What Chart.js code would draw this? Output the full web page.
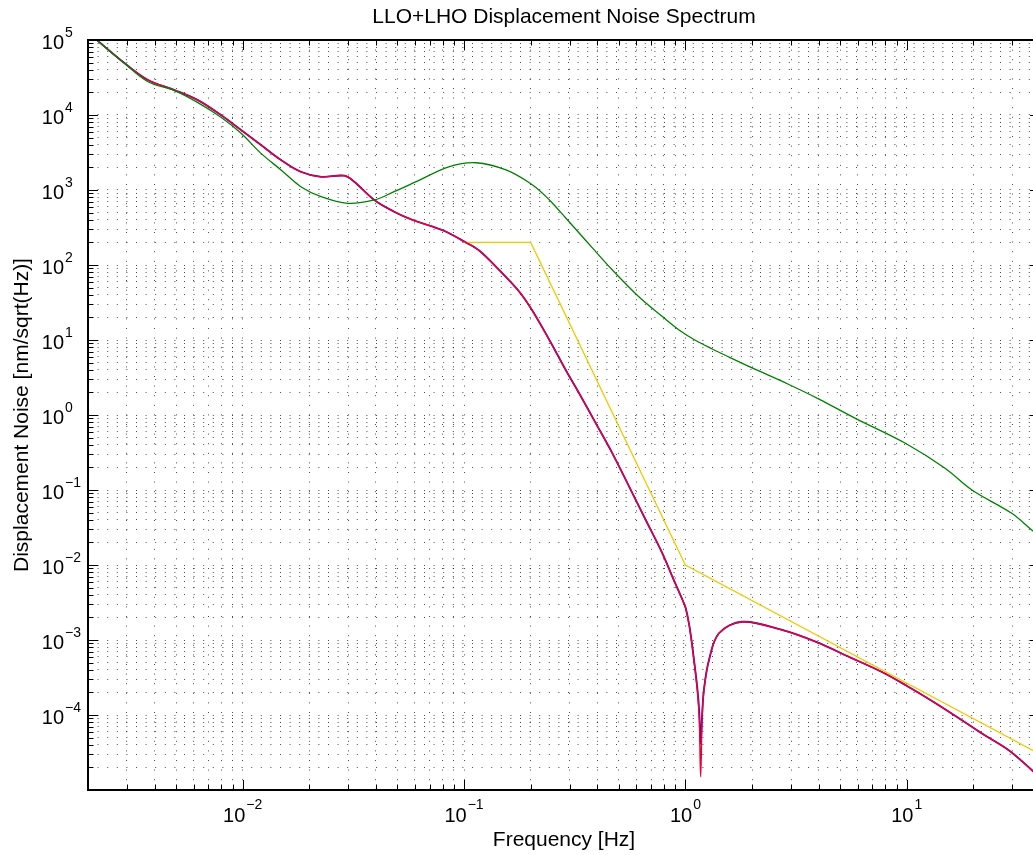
<!DOCTYPE html>
<html>
<head>
<meta charset="utf-8">
<title>LLO+LHO Displacement Noise Spectrum</title>
<script src="https://cdn.jsdelivr.net/npm/chart.js@4.4.0/dist/chart.umd.min.js"></script>
<style>
    html, body { margin: 0; padding: 0; background: #fff; overflow: hidden; }
    #wrap { width: 1033px; height: 855px; overflow: hidden; }
</style>
</head>
<body>
<div id="wrap"><canvas id="noiseChart" width="1041" height="855"></canvas></div>
<script>
// values
const redFreq = [0.002, 0.00293, 0.00373, 0.00492, 0.00627, 0.00798, 0.00983, 0.0121, 0.0149, 0.0183,
    0.0226, 0.0288, 0.0319, 0.0393, 0.0483, 0.0586, 0.0722, 0.083, 0.1003, 0.117,
    0.144, 0.178, 0.204, 0.243, 0.288, 0.331, 0.394, 0.468, 0.557, 0.662,
    0.787, 0.873, 0.975, 1.003, 1.04, 1.074, 1.132, 1.155, 1.172, 1.19, 1.213,
    1.278, 1.418, 1.81, 2.736, 3.87, 5.47, 7.73, 9.86, 13.0, 17.7,
    21.8, 28.8, 36.7, 40];
const redVals = [1.26e5, 4.89e4, 2.93e4, 2.15e4, 1.58e4, 1.0e4, 6310, 3980, 2510, 1750,
    1500, 1550, 1290, 736, 514, 398, 324, 278, 205, 156,
    85.8, 43.7, 24.4, 10, 3.98, 1.95, 0.774, 0.308, 0.111, 0.0398,
    0.0143, 0.00699, 0.00331, 0.00267, 1.58e-3, 8.15e-4, 2.15e-4, 9e-5, 1.5e-5, 9e-5, 2.15e-4,
    5.4e-4, 1.23e-3, 1.75e-3, 1.36e-3, 9.5e-4, 5.98e-4, 3.74e-4, 2.51e-4, 1.54e-4, 8.58e-5,
    5.7e-5, 3.42e-5, 1.85e-5, 1.45e-5];
const blueVals = [1.26e5, 4.89e4, 2.93e4, 2.15e4, 1.58e4, 1.0e4, 6310, 3980, 2510, 1750,
    1500, 1550, 1290, 736, 514, 398, 324, 278, 205, 156,
    85.8, 43.7, 24.4, 10, 3.98, 1.95, 0.774, 0.308, 0.111, 0.0398,
    0.0143, 0.00699, 0.00331, 0.00267, 1.6e-3, 8.3e-4, 2.3e-4, 1.1e-4, 4.2e-5, 1.0e-4, 2.2e-4,
    5.4e-4, 1.23e-3, 1.75e-3, 1.36e-3, 9.5e-4, 5.98e-4, 3.74e-4, 2.51e-4, 1.54e-4, 8.58e-5,
    5.7e-5, 3.42e-5, 1.85e-5, 1.45e-5];

const greenFreq = [0.002, 0.00293, 0.00373, 0.00492, 0.00627, 0.00798, 0.00983, 0.0121, 0.0149, 0.0183,
    0.0226, 0.0298, 0.0393, 0.0483, 0.0608, 0.0859, 0.1133, 0.1547, 0.204, 0.243,
    0.288, 0.331, 0.38, 0.468, 0.618, 0.787, 0.936, 1.113, 1.323,
    1.573, 2.004, 2.934, 4.01, 5.86, 9.86, 14.9, 19.7, 29.8, 36.7, 40];
const greenVals = [1.26e5, 4.85e4, 2.78e4, 2.11e4, 1.46e4, 9310, 5700, 3080, 1850, 1107,
    815, 665, 736, 949, 1290, 2050, 2310, 1850, 1166, 736,
    423, 267, 169, 85.8, 37.4, 20.5, 13.6, 9.85, 7.59,
    5.93, 4.24, 2.55, 1.63, 0.903, 0.42, 0.195, 0.1, 0.0489, 0.0293, 0.024];

const yellowFreq = [0.1, 0.2, 1, 40];
const yellowVals = [200, 200, 0.01, 3.0e-5];

const xTickExponents = [-2, -1, 0, 1];
const yTickExponents = [5, 4, 3, 2, 1, 0, -1, -2, -3, -4];

const X_MIN = 0.002, X_MAX = 40;
const Y_MIN = 1e-5, Y_MAX = 1e5;

const FONT = '"Liberation Sans", Arial, Helvetica, sans-serif';

function toPoints(xs, ys) {
    return xs.map((x, i) => ({ x: x, y: ys[i] }));
}

function logTicks(min, max) {
    const ticks = [];
    const lo = Math.floor(Math.log10(min));
    const hi = Math.ceil(Math.log10(max));
    for (let n = lo; n <= hi; n++) {
        for (let k = 1; k <= 9; k++) {
            const v = k * Math.pow(10, n);
            if (v >= min * 0.9999 && v <= max * 1.0001) ticks.push({ value: v });
        }
    }
    return ticks;
}

function isDecade(v) {
    const l = Math.log10(v);
    return Math.abs(l - Math.round(l)) < 1e-9;
}

function supText(n) {
    return n < 0 ? '\u2212' + Math.abs(n) : String(n);
}

// axes box, inward tick marks, tick labels and titles in the MATLAB style
const matlabAxes = {
    id: 'matlabAxes',
    afterDraw(chart) {
        const ctx = chart.ctx;
        const area = chart.chartArea;
        const xs = chart.scales.x;
        const ys = chart.scales.y;
        ctx.save();

        // tick marks on all four sides
        ctx.strokeStyle = '#000';
        ctx.lineWidth = 1;
        ctx.beginPath();
        xs.ticks.forEach(t => {
            const px = Math.round(xs.getPixelForValue(t.value)) + 0.5;
            const len = isDecade(t.value) ? 10 : 5.5;
            ctx.moveTo(px, area.bottom); ctx.lineTo(px, area.bottom - len);
            ctx.moveTo(px, area.top); ctx.lineTo(px, area.top + len);
        });
        ys.ticks.forEach(t => {
            const py = Math.round(ys.getPixelForValue(t.value)) + 0.5;
            const len = isDecade(t.value) ? 10 : 5.5;
            ctx.moveTo(area.left, py); ctx.lineTo(area.left + len, py);
            ctx.moveTo(area.right, py); ctx.lineTo(area.right - len, py);
        });
        ctx.stroke();

        // box
        ctx.lineWidth = 2;
        ctx.strokeRect(area.left, area.top, area.right - area.left, area.bottom - area.top);

        ctx.fillStyle = '#000';
        ctx.textBaseline = 'alphabetic';

        // x tick labels: "10" with superscript, centred on the tick
        xTickExponents.forEach(e => {
            const px = xs.getPixelForValue(Math.pow(10, e));
            ctx.font = '20px ' + FONT;
            const wBase = ctx.measureText('10').width;
            ctx.font = '14px ' + FONT;
            const wExp = ctx.measureText(supText(e)).width;
            const start = px - (wBase + 1 + wExp) / 2;
            ctx.textAlign = 'left';
            ctx.font = '20px ' + FONT;
            ctx.fillText('10', start, area.bottom + 32);
            ctx.font = '14px ' + FONT;
            ctx.fillText(supText(e), start + wBase + 1, area.bottom + 18.5);
        });

        // y tick labels: "10" right aligned, exponent hanging after it
        yTickExponents.forEach(e => {
            const py = ys.getPixelForValue(Math.pow(10, e));
            ctx.font = '20px ' + FONT;
            ctx.textAlign = 'right';
            ctx.fillText('10', 64, py + 9);
            ctx.font = '14px ' + FONT;
            ctx.textAlign = 'left';
            ctx.fillText(supText(e), 65, py - 3);
        });

        const cx = (area.left + area.right) / 2;
        const cy = (area.top + area.bottom) / 2;
        ctx.font = '21px ' + FONT;
        ctx.textAlign = 'center';
        ctx.fillText('LLO+LHO Displacement Noise Spectrum', cx, 23);
        ctx.fillText('Frequency [Hz]', cx, 846);

        ctx.translate(27.5, cy);
        ctx.rotate(-Math.PI / 2);
        ctx.fillText('Displacement Noise [nm/sqrt(Hz)]', 0, 0);
        ctx.restore();
    }
};

const ctx = document.getElementById('noiseChart').getContext('2d');
const chart = new Chart(ctx, {
    type: 'line',
    data: {
        datasets: [
            { label: 'green', data: toPoints(greenFreq, greenVals), borderColor: '#008000', borderWidth: 1.3, tension: 0.35 },
            { label: 'red', data: toPoints(redFreq, redVals), borderColor: '#ee0030', borderWidth: 1.4, tension: 0.35 },
            { label: 'yellow', data: toPoints(yellowFreq, yellowVals), borderColor: '#f0c800', borderWidth: 1.3, tension: 0 },
            { label: 'blue', data: toPoints(redFreq, blueVals), borderColor: '#3a00c0', borderWidth: 1.8, tension: 0.35 }
        ]
    },
    options: {
        responsive: false,
        animation: false,
        devicePixelRatio: 1,
        events: [],
        layout: { autoPadding: false, padding: { left: 88, top: 40, right: 1, bottom: 65 } },
        elements: { point: { radius: 0 }, line: { fill: false } },
        datasets: { line: { clip: 0 } },
        plugins: { legend: { display: false }, tooltip: { enabled: false }, title: { display: false } },
        scales: {
            x: {
                type: 'logarithmic',
                min: X_MIN,
                max: X_MAX,
                afterBuildTicks: axis => { axis.ticks = logTicks(X_MIN, X_MAX); },
                ticks: { display: false },
                grid: { color: 'rgba(0,0,0,0.7)', lineWidth: 1, drawTicks: false },
                border: { display: false, dash: [1, 8.6] }
            },
            y: {
                type: 'logarithmic',
                min: Y_MIN,
                max: Y_MAX,
                afterBuildTicks: axis => { axis.ticks = logTicks(Y_MIN, Y_MAX); },
                ticks: { display: false },
                grid: { color: 'rgba(0,0,0,0.7)', lineWidth: 1, drawTicks: false },
                border: { display: false, dash: [1, 8.6] }
            }
        }
    },
    plugins: [matlabAxes]
});
</script>
</body>
</html>
